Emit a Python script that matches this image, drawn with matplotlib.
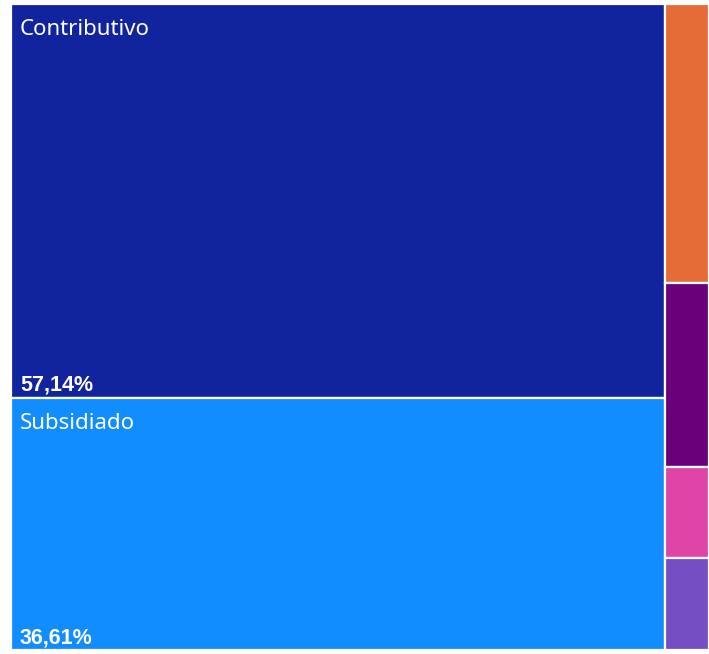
import matplotlib.pyplot as plt
from matplotlib.patches import Rectangle

# data
main_names = ['Contributivo', 'Subsidiado']
main_values = [57.14, 36.61]
main_colors = ['#12239E', '#118DFF']

small_names = ['Especial', 'Excepción', 'No afiliado', 'Otro']
small_values = [2.70, 1.78, 0.88, 0.89]
small_colors = ['#E66C37', '#6B007B', '#E044A7', '#744EC2']

W, H = 709, 654
fig = plt.figure(figsize=(W / 100, H / 100), dpi=100)
ax = fig.add_axes([11 / W, 4 / H, 698 / W, 646 / H])
ax.set_xlim(0, 1)
ax.set_ylim(1, 0)
ax.axis('off')

total = sum(main_values) + sum(small_values)
left_w = sum(main_values) / total

# left column: big groups stacked
y = 0
for name, v, c in zip(main_names, main_values, main_colors):
    h = v / sum(main_values)
    ax.add_patch(Rectangle((0, y), left_w, h, facecolor=c, edgecolor='white', linewidth=1.6))
    ax.annotate(name, (0, y), xytext=(6.5, -11), textcoords='offset points',
                ha='left', va='top', color='white', fontsize=16, family='Noto Sans')
    ax.annotate(f'{v:.2f}%'.replace('.', ','), (0, y + h), xytext=(6.5, 5),
                textcoords='offset points', ha='left', va='baseline', color='white',
                fontsize=15.5, fontweight='bold', family='Liberation Sans')
    y += h

# right column: small groups stacked
y = 0
for name, v, c in zip(small_names, small_values, small_colors):
    h = v / sum(small_values)
    ax.add_patch(Rectangle((left_w, y), 1 - left_w, h, facecolor=c, edgecolor='white', linewidth=1.6))
    y += h

fig.savefig('out.png', dpi=100, facecolor='white')
